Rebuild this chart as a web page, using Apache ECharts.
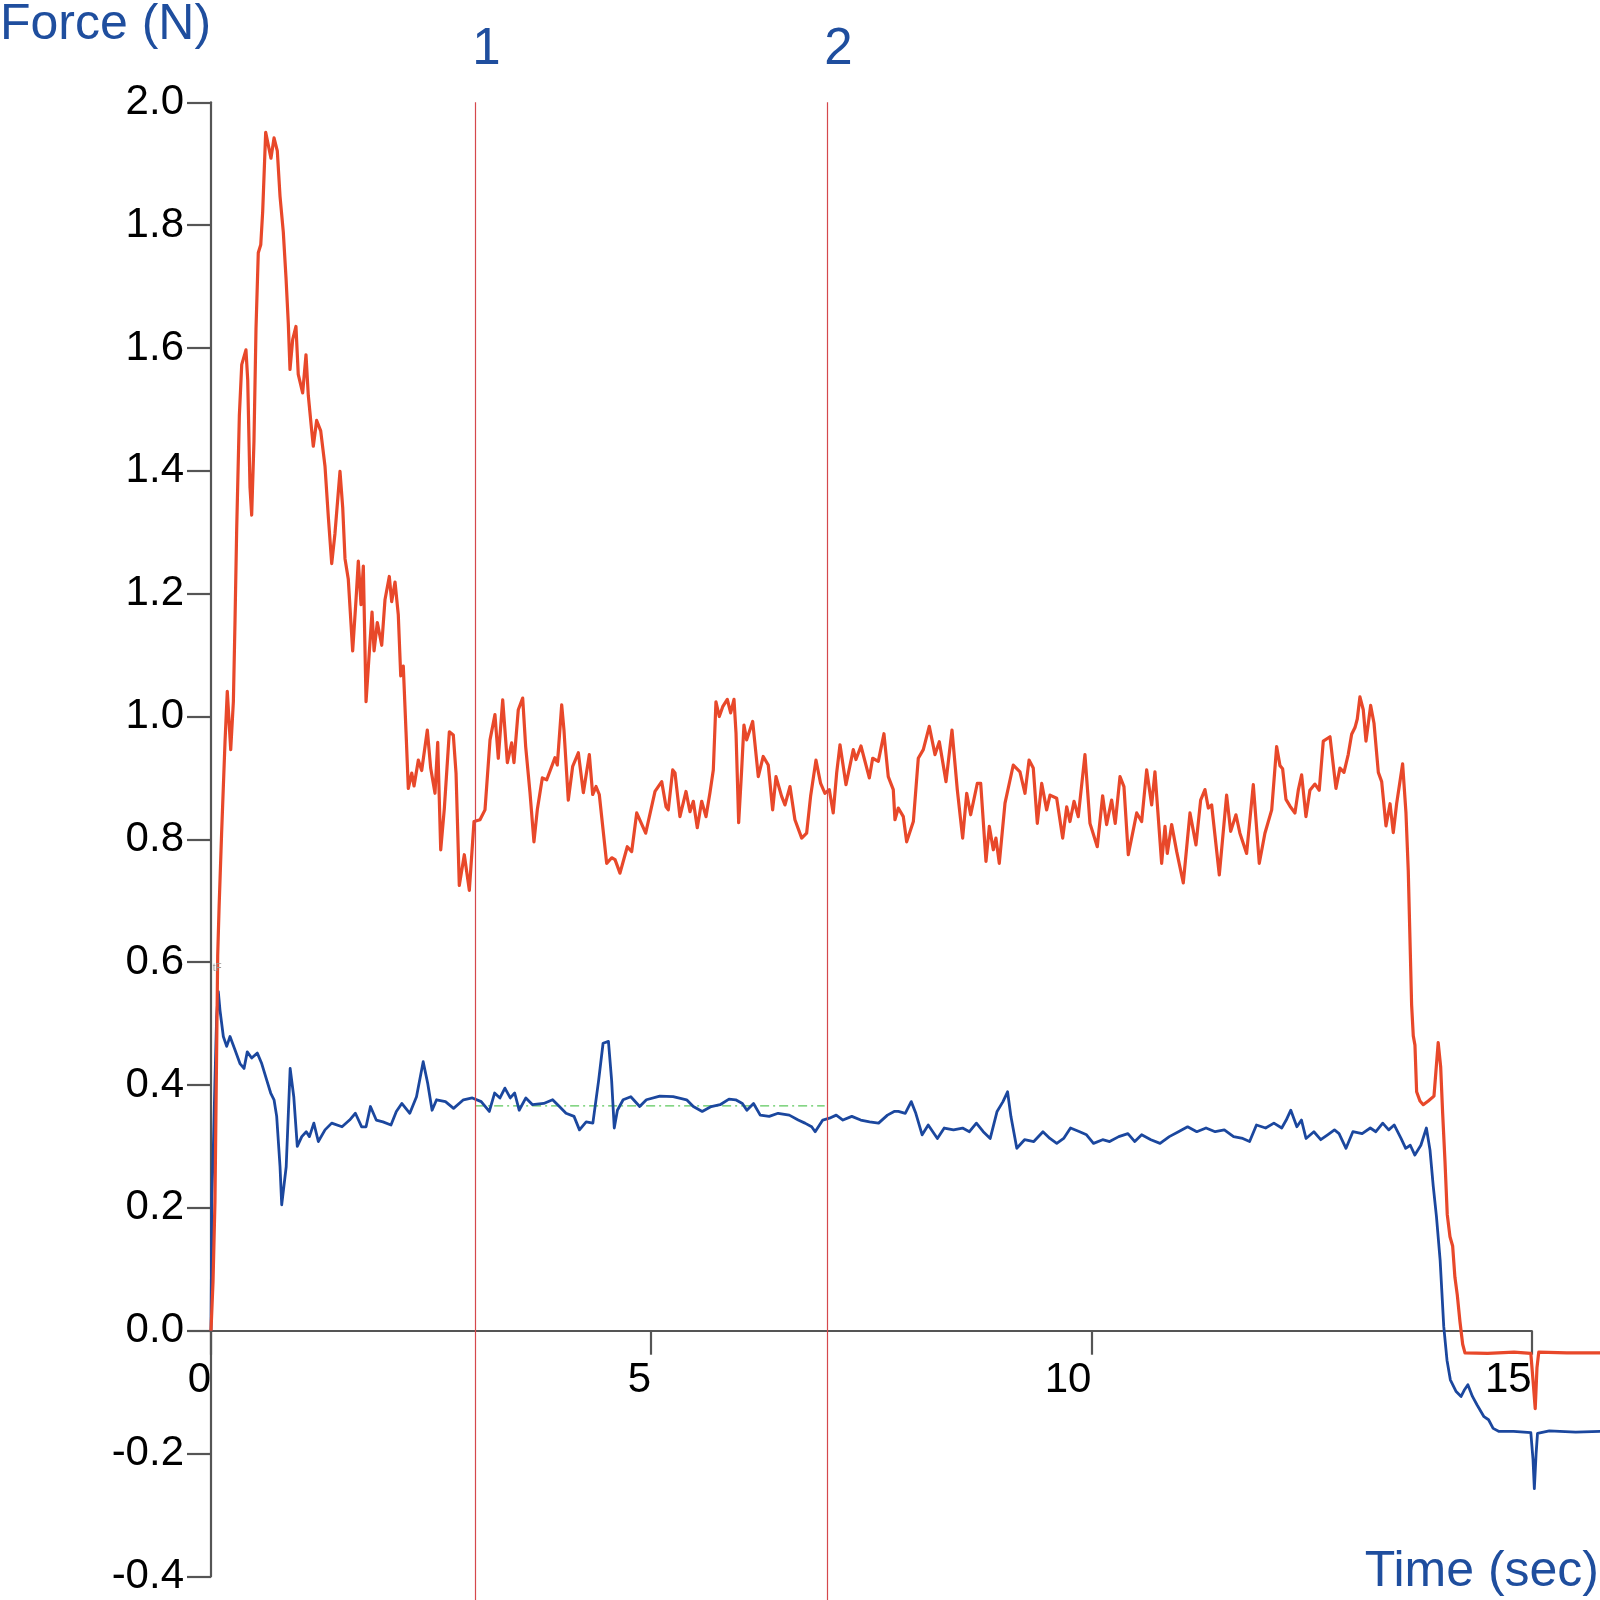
<!DOCTYPE html>
<html><head><meta charset="utf-8">
<script src="https://cdn.jsdelivr.net/npm/echarts@6/dist/echarts.min.js"></script>
<style>html,body{margin:0;padding:0;background:#fff}#c{width:1600px;height:1600px}</style>
</head><body><div id="c"></div>
<script>
// ---- data (time in s, force in N) ----
const redT = [0.000,0.023,0.045,0.076,0.092,0.120,0.159,0.185,0.224,0.254,0.273,0.292,0.322,0.349,0.397,0.417,0.443,0.462,0.488,0.511,0.537,0.565,0.587,0.621,0.681,0.716,0.753,0.784,0.821,0.852,0.878,0.897,0.928,0.965,0.991,1.041,1.079,1.105,1.144,1.162,1.200,1.246,1.295,1.333,1.371,1.408,1.465,1.496,1.522,1.559,1.609,1.647,1.673,1.704,1.730,1.761,1.799,1.829,1.852,1.889,1.939,1.976,2.025,2.052,2.090,2.127,2.155,2.184,2.215,2.241,2.280,2.306,2.355,2.393,2.457,2.495,2.544,2.575,2.609,2.650,2.707,2.752,2.783,2.820,2.877,2.934,2.987,3.055,3.112,3.169,3.225,3.263,3.313,3.366,3.415,3.441,3.490,3.540,3.574,3.623,3.668,3.706,3.763,3.813,3.907,3.933,3.983,4.009,4.058,4.108,4.172,4.229,4.297,4.335,4.373,4.410,4.494,4.551,4.589,4.645,4.728,4.778,4.835,4.937,5.043,5.119,5.168,5.194,5.244,5.270,5.326,5.395,5.440,5.478,5.523,5.573,5.622,5.667,5.705,5.735,5.773,5.812,5.864,5.902,5.940,5.963,5.993,6.027,6.053,6.084,6.152,6.216,6.272,6.329,6.379,6.417,6.481,6.519,6.576,6.632,6.709,6.765,6.810,6.871,6.924,6.973,7.022,7.067,7.106,7.144,7.212,7.295,7.325,7.382,7.477,7.515,7.579,7.643,7.692,7.749,7.768,7.806,7.863,7.901,7.977,8.033,8.090,8.158,8.223,8.272,8.348,8.416,8.476,8.537,8.583,8.628,8.703,8.742,8.802,8.840,8.885,8.915,8.953,9.018,9.112,9.188,9.245,9.291,9.339,9.385,9.435,9.491,9.529,9.605,9.673,9.719,9.756,9.802,9.850,9.926,9.983,10.066,10.127,10.172,10.229,10.270,10.324,10.369,10.418,10.514,10.570,10.627,10.684,10.721,10.797,10.835,10.861,10.911,10.968,11.043,11.119,11.187,11.240,11.289,11.327,11.365,11.452,11.535,11.581,11.641,11.686,11.762,11.838,11.906,11.970,12.047,12.103,12.141,12.171,12.209,12.255,12.311,12.349,12.387,12.436,12.481,12.538,12.587,12.633,12.709,12.777,12.822,12.868,12.916,12.955,12.993,13.019,13.049,13.087,13.118,13.171,13.209,13.258,13.296,13.345,13.391,13.428,13.466,13.534,13.572,13.598,13.617,13.636,13.655,13.674,13.693,13.731,13.768,13.825,13.890,13.912,13.938,13.966,13.988,14.015,14.041,14.072,14.102,14.128,14.155,14.185,14.216,14.242,14.500,14.800,14.990,15.020,15.040,15.060,15.080,15.400,15.776];
const redF = [0.000,0.080,0.210,0.610,0.690,0.808,0.958,1.041,0.946,1.024,1.157,1.307,1.490,1.573,1.597,1.548,1.373,1.328,1.448,1.631,1.755,1.768,1.822,1.951,1.909,1.942,1.921,1.847,1.789,1.714,1.640,1.565,1.614,1.635,1.557,1.527,1.589,1.523,1.465,1.440,1.482,1.465,1.407,1.324,1.249,1.298,1.399,1.340,1.257,1.224,1.107,1.190,1.253,1.182,1.245,1.024,1.107,1.170,1.107,1.153,1.116,1.190,1.228,1.187,1.219,1.166,1.066,1.082,0.975,0.883,0.908,0.887,0.929,0.912,0.978,0.916,0.875,0.958,0.783,0.850,0.975,0.970,0.908,0.725,0.775,0.717,0.829,0.832,0.848,0.962,1.003,0.932,1.027,0.925,0.957,0.925,1.011,1.030,0.951,0.876,0.796,0.848,0.900,0.897,0.933,0.921,1.019,0.978,0.864,0.919,0.941,0.876,0.938,0.873,0.886,0.873,0.761,0.770,0.767,0.745,0.788,0.780,0.843,0.810,0.878,0.894,0.853,0.848,0.913,0.908,0.837,0.878,0.845,0.862,0.819,0.862,0.837,0.876,0.913,1.024,1.000,1.016,1.028,1.006,1.028,0.973,0.827,0.913,0.986,0.962,0.992,0.902,0.935,0.921,0.848,0.902,0.870,0.856,0.886,0.832,0.802,0.810,0.870,0.929,0.891,0.875,0.881,0.843,0.908,0.954,0.889,0.946,0.930,0.952,0.900,0.932,0.927,0.972,0.902,0.881,0.832,0.851,0.837,0.796,0.829,0.932,0.946,0.984,0.938,0.959,0.894,0.978,0.881,0.802,0.875,0.840,0.891,0.891,0.764,0.821,0.783,0.802,0.761,0.859,0.921,0.910,0.875,0.929,0.916,0.826,0.891,0.848,0.872,0.867,0.802,0.853,0.829,0.862,0.837,0.938,0.826,0.788,0.871,0.824,0.864,0.826,0.902,0.886,0.775,0.843,0.829,0.913,0.856,0.910,0.761,0.821,0.777,0.824,0.780,0.729,0.843,0.791,0.864,0.881,0.851,0.856,0.742,0.872,0.813,0.840,0.810,0.777,0.889,0.761,0.810,0.848,0.951,0.920,0.915,0.865,0.854,0.843,0.880,0.905,0.837,0.880,0.890,0.880,0.960,0.967,0.883,0.916,0.909,0.938,0.971,0.982,0.996,1.032,1.011,0.960,1.018,0.989,0.909,0.894,0.822,0.858,0.811,0.858,0.923,0.843,0.749,0.640,0.531,0.480,0.465,0.389,0.374,0.368,0.374,0.382,0.422,0.469,0.430,0.356,0.276,0.189,0.153,0.138,0.087,0.058,0.015,-0.022,-0.036,-0.037,-0.035,-0.037,-0.090,-0.127,-0.060,-0.035,-0.036,-0.036];

const blueT = [0.000,0.005,0.010,0.026,0.045,0.064,0.083,0.102,0.140,0.178,0.216,0.273,0.329,0.375,0.412,0.462,0.526,0.576,0.633,0.678,0.716,0.746,0.784,0.803,0.854,0.899,0.940,0.980,1.031,1.082,1.118,1.168,1.219,1.295,1.371,1.488,1.574,1.640,1.711,1.761,1.811,1.877,1.953,2.044,2.105,2.167,2.258,2.334,2.410,2.461,2.511,2.562,2.663,2.755,2.867,2.968,3.069,3.161,3.221,3.282,3.338,3.399,3.449,3.500,3.576,3.652,3.779,3.880,3.957,4.032,4.123,4.185,4.261,4.337,4.403,4.453,4.514,4.550,4.580,4.616,4.681,4.768,4.869,4.945,5.097,5.249,5.402,5.478,5.579,5.681,5.782,5.883,5.959,6.035,6.086,6.162,6.238,6.340,6.441,6.568,6.669,6.746,6.822,6.862,6.948,7.024,7.101,7.177,7.278,7.379,7.480,7.582,7.683,7.759,7.807,7.885,7.953,8.005,8.077,8.146,8.250,8.328,8.433,8.536,8.614,8.693,8.771,8.850,8.928,8.995,9.047,9.085,9.152,9.240,9.345,9.449,9.528,9.606,9.684,9.762,9.866,9.944,10.023,10.127,10.206,10.310,10.414,10.492,10.570,10.675,10.779,10.884,10.988,11.092,11.196,11.301,11.405,11.509,11.614,11.718,11.796,11.874,11.978,12.072,12.161,12.212,12.264,12.333,12.385,12.437,12.526,12.604,12.682,12.760,12.812,12.891,12.969,13.074,13.167,13.230,13.308,13.376,13.438,13.516,13.569,13.621,13.673,13.741,13.804,13.845,13.882,13.918,13.960,14.001,14.038,14.076,14.142,14.198,14.233,14.275,14.327,14.380,14.458,14.510,14.562,14.629,14.794,14.990,15.015,15.030,15.050,15.066,15.200,15.500,15.776];
const blueF = [0.000,0.100,0.220,0.294,0.408,0.511,0.552,0.522,0.479,0.463,0.479,0.457,0.435,0.427,0.454,0.444,0.452,0.435,0.408,0.387,0.376,0.349,0.267,0.205,0.267,0.427,0.381,0.300,0.316,0.324,0.316,0.338,0.308,0.327,0.338,0.332,0.343,0.354,0.332,0.332,0.365,0.343,0.340,0.335,0.357,0.370,0.354,0.381,0.438,0.403,0.359,0.376,0.373,0.362,0.376,0.379,0.373,0.357,0.387,0.379,0.395,0.379,0.387,0.359,0.379,0.368,0.370,0.376,0.365,0.354,0.349,0.327,0.340,0.338,0.408,0.468,0.471,0.408,0.330,0.359,0.376,0.381,0.365,0.376,0.382,0.381,0.376,0.365,0.357,0.365,0.368,0.377,0.376,0.370,0.359,0.370,0.351,0.349,0.354,0.351,0.343,0.338,0.332,0.324,0.343,0.346,0.351,0.343,0.349,0.343,0.340,0.338,0.351,0.357,0.357,0.354,0.373,0.354,0.319,0.335,0.313,0.330,0.327,0.330,0.324,0.338,0.324,0.313,0.357,0.373,0.389,0.349,0.297,0.311,0.308,0.324,0.313,0.305,0.313,0.330,0.324,0.319,0.305,0.311,0.308,0.316,0.321,0.308,0.319,0.311,0.305,0.316,0.324,0.332,0.324,0.330,0.324,0.327,0.316,0.313,0.308,0.335,0.330,0.338,0.330,0.343,0.359,0.332,0.343,0.313,0.324,0.311,0.319,0.327,0.321,0.297,0.324,0.321,0.330,0.324,0.338,0.327,0.335,0.313,0.297,0.302,0.286,0.302,0.330,0.294,0.235,0.186,0.115,0.007,-0.048,-0.080,-0.099,-0.107,-0.097,-0.088,-0.107,-0.121,-0.140,-0.145,-0.159,-0.164,-0.164,-0.166,-0.210,-0.257,-0.200,-0.167,-0.163,-0.165,-0.164];

const xTickLabels = [0, 5, 10, 15];
const yTickLabels = ['-0.4','-0.2','0.0','0.2','0.4','0.6','0.8','1.0','1.2','1.4','1.6','1.8','2.0'];
const markerTimes = [3, 7];
const markerLabels = ['1', '2'];
const baselineT = [3.0, 6.97];
const baselineF = [0.366, 0.366];

// ---- layout / style ----
const FONT = '"Liberation Sans", Arial, sans-serif';
const BLUE_TXT = '#1f4e9e';
const AX = '#555555';
const L = 211, T = 102.3, R15 = 1531.7, B = 1576.4;
const yMin = parseFloat(yTickLabels[0]), yMax = parseFloat(yTickLabels[yTickLabels.length - 1]);
const xMax = xTickLabels[xTickLabels.length - 1];
const pxPerSec = (R15 - L) / xMax;
const xMaxData = (1600 - L) / pxPerSec;
const pxPerN = (B - T) / (yMax - yMin);
const Y0 = T + yMax * pxPerN;   // pixel row of F = 0

const pairs = (ts, fs) => ts.map((t, i) => [t, fs[i]]);
const noBounds = {outerBoundsMode: 'none', containLabel: false};

const chart = echarts.init(document.getElementById('c'), null, {renderer: 'canvas'});
const option = {
  animation: false,
  backgroundColor: '#fff',
  grid: [
    Object.assign({left: L, top: T, width: R15 - L, height: B - T}, noBounds),      // y axis
    Object.assign({left: L, top: T, width: 1600 - L, height: B - T}, noBounds),     // data
    Object.assign({left: L, top: T, width: R15 - L, height: Y0 - T}, noBounds)      // x axis on F = 0
  ],
  xAxis: [
    {gridIndex: 0, type: 'value', min: 0, max: xMax, show: false},
    {gridIndex: 1, type: 'value', min: 0, max: xMaxData, show: false},
    {gridIndex: 2, type: 'value', min: xTickLabels[0], max: xMax, interval: 5, position: 'bottom',
     axisLine: {show: true, onZero: false, lineStyle: {color: AX, width: 2.2}},
     axisTick: {show: true, length: 24, lineStyle: {color: AX, width: 2.2}},
     axisLabel: {align: 'right', margin: 29, fontSize: 42, color: '#000', fontFamily: FONT,
                 showMinLabel: true, showMaxLabel: true, formatter: v => String(v)},
     splitLine: {show: false}}
  ],
  yAxis: [
    {gridIndex: 0, type: 'value', min: yMin, max: yMax, interval: 0.2,
     axisLine: {show: true, onZero: false, lineStyle: {color: AX, width: 2.2}},
     axisTick: {show: true, length: 24, lineStyle: {color: AX, width: 2.2}},
     axisLabel: {margin: 27, fontSize: 42, color: '#000', fontFamily: FONT,
                 showMinLabel: true, showMaxLabel: true,
                 formatter: v => { const s = (Math.round(v * 10) / 10).toFixed(1); return s === '-0.0' ? '0.0' : s; }},
     splitLine: {show: false}},
    {gridIndex: 1, type: 'value', min: yMin, max: yMax, show: false},
    {gridIndex: 2, type: 'value', min: 0, max: yMax, show: false}
  ],
  series: [
    {name: 'baseline', type: 'line', xAxisIndex: 1, yAxisIndex: 1, data: pairs(baselineT, baselineF),
     showSymbol: false, lineStyle: {color: '#5cc85c', width: 1.2, type: [9, 4, 2, 4]}, z: 2},
    {name: 'blue', type: 'line', xAxisIndex: 1, yAxisIndex: 1, data: pairs(blueT, blueF),
     showSymbol: false, smooth: false, lineStyle: {color: '#1b479e', width: 2.8, join: 'round'}, z: 3},
    {name: 'red', type: 'line', xAxisIndex: 1, yAxisIndex: 1, data: pairs(redT, redF),
     showSymbol: false, smooth: false, lineStyle: {color: '#e8482a', width: 3.2, join: 'round'}, z: 4}
  ]
};
chart.setOption(option);

// markers, titles (positions from the library's own scale)
const g = [];
markerTimes.forEach((t, i) => {
  const px = chart.convertToPixel({xAxisIndex: 1, yAxisIndex: 1}, [t, yMax]);
  const x = Math.round(px[0]) + 0.5;
  g.push({type: 'line', shape: {x1: x, y1: px[1], x2: x, y2: 1600},
          style: {stroke: '#d5484c', lineWidth: 1.2}, z: 5, silent: true});
  g.push({type: 'text', x: x + 11, y: 50,
          style: {text: markerLabels[i], font: '51px ' + FONT, fill: BLUE_TXT, align: 'center', verticalAlign: 'middle'}, z: 6});
});
g.push({type: 'text', x: 0, y: 25, style: {text: 'Force (N)', font: '50px ' + FONT, fill: BLUE_TXT, align: 'left', verticalAlign: 'middle'}, z: 6});
g.push({type: 'text', x: 1599, y: 1572, style: {text: 'Time (sec)', font: '50px ' + FONT, fill: BLUE_TXT, align: 'right', verticalAlign: 'middle'}, z: 6});
const tf = chart.convertToPixel({xAxisIndex: 1, yAxisIndex: 1}, [0.02, 0.59]);
g.push({type: 'text', x: tf[0], y: tf[1], style: {text: 'tF', font: '10px ' + FONT, fill: '#999', align: 'left', verticalAlign: 'middle'}, z: 6});
chart.setOption({graphic: g});
</script></body></html>
